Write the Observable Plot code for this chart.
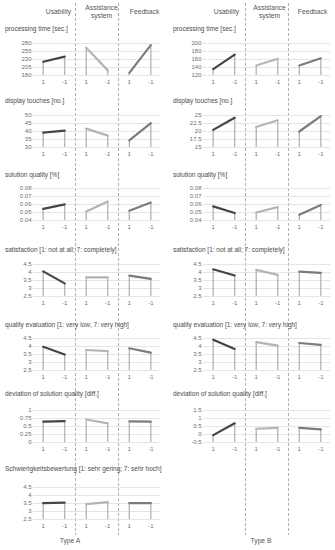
<!DOCTYPE html>
<html><head><meta charset="utf-8">
<script src="https://cdn.jsdelivr.net/npm/d3@7"></script>
<script src="https://cdn.jsdelivr.net/npm/@observablehq/plot@0.6"></script>
<style>
body{margin:0;background:#fff;}
#root{position:relative;width:335px;height:550px;overflow:hidden;font-family:"Liberation Sans",Arial,Helvetica,sans-serif;}
.box{position:absolute;}
.title{position:absolute;font-size:6.5px;color:#4a4a4a;white-space:nowrap;line-height:1;transform:translateY(-50%);}
</style></head><body><div id="root"></div>
<script>
// ---------- data ----------
const groups = ["Usability", "Assistance system", "Feedback"];
const levels = ["1", "-1"];
const types = ["Type A", "Type B"];
const measures = [
  "processing time [sec.]",
  "display touches [no.]",
  "solution quality [%]",
  "satisfaction [1: not at all; 7: completely]",
  "quality evaluation [1: very low; 7: very high]",
  "deviation of solution quality [diff.]",
  "Schwierigkeitsbewertung [1: sehr gering; 7: sehr hoch]"
];
// values in order: Usability 1, -1, Assistance 1, -1, Feedback 1, -1
const processingTimeA = [223, 239, 267, 196, 188, 275];
const processingTimeB = [136, 172, 145, 162, 145, 163];
const displayTouchesA = [39.3, 40.6, 41.8, 37.4, 34.5, 45.2];
const displayTouchesB = [20.5, 24.3, 21.4, 23.5, 20.0, 24.8];
const solutionQualityA = [0.0546, 0.0602, 0.0512, 0.0636, 0.0523, 0.0624];
const solutionQualityB = [0.0576, 0.0493, 0.0500, 0.0568, 0.0471, 0.0594];
const satisfactionA = [4.07, 3.32, 3.70, 3.70, 3.81, 3.60];
const satisfactionB = [4.20, 3.81, 4.16, 3.85, 4.05, 3.98];
const qualityEvalA = [3.98, 3.50, 3.78, 3.71, 3.89, 3.62];
const qualityEvalB = [4.42, 3.85, 4.27, 4.05, 4.22, 4.10];
const deviationA = [0.65, 0.67, 0.72, 0.60, 0.66, 0.65];
const deviationB = [-0.04, 0.70, 0.36, 0.42, 0.42, 0.32];
const difficultyA = [3.52, 3.56, 3.46, 3.58, 3.52, 3.52];

const ticksProcessingTimeA = [180, 205, 230, 255, 280];
const ticksProcessingTimeB = [120, 140, 160, 180, 200];
const ticksDisplayTouchesA = [30, 35, 40, 45, 50];
const ticksDisplayTouchesB = [15, 17.5, 20, 22.5, 25];
const ticksSolutionQuality = [0.04, 0.05, 0.06, 0.07, 0.08];
const ticksRating = [2.5, 3, 3.5, 4, 4.5];
const ticksDeviationA = [0, 0.25, 0.5, 0.75, 1];
const ticksDeviationB = [-0.5, 0, 0.5, 1, 1.5];

const columns = [
  [[processingTimeA, ticksProcessingTimeA], [displayTouchesA, ticksDisplayTouchesA], [solutionQualityA, ticksSolutionQuality],
   [satisfactionA, ticksRating], [qualityEvalA, ticksRating], [deviationA, ticksDeviationA], [difficultyA, ticksRating]],
  [[processingTimeB, ticksProcessingTimeB], [displayTouchesB, ticksDisplayTouchesB], [solutionQualityB, ticksSolutionQuality],
   [satisfactionB, ticksRating], [qualityEvalB, ticksRating], [deviationB, ticksDeviationB]]
];

// ---------- layout / style ----------
const FONT = '"Liberation Sans", Arial, Helvetica, sans-serif';
const groupColors = ["#454545", "#b4b4b4", "#7c7c7c"];
const colLeft = [0, 170];
const W = 167, ML = 33, MR = 7, MT = 4, MB = 14, PH = 32;
const gridTop = [43, 115, 188, 264, 338, 410, 487];
const titleY = [29, 101, 175, 250, 325, 394, 469];
const xDomain = [0.55, 6.45];
const root = document.getElementById("root");

function place(el, left, top) {
  const d = document.createElement("div");
  d.className = "box";
  d.style.left = left + "px"; d.style.top = top + "px"; d.style.width = W + "px";
  d.appendChild(el); root.appendChild(d);
}

function panel(values, ticks) {
  const data = values.map((v, i) => ({group: groups[Math.floor(i / 2)], level: levels[i % 2], pos: i + 1, value: v}));
  const lo = d3.min(ticks), hi = d3.max(ticks);
  return Plot.plot({
    width: W, height: MT + PH + MB, marginLeft: ML, marginRight: MR, marginTop: MT, marginBottom: MB,
    style: {background: "transparent", fontFamily: FONT, fontSize: "6px", color: "#6e6e6e", overflow: "visible"},
    x: {domain: xDomain, ticks: data.map(d => d.pos), tickFormat: p => data[p - 1].level, tickSize: 0, tickPadding: 4, label: null},
    y: {domain: [lo, hi], ticks, tickFormat: d => String(d), tickSize: 0, tickPadding: 2, label: null},
    color: {domain: groups, range: groupColors},
    marks: [
      Plot.ruleY(ticks, {stroke: "#dedede", strokeWidth: 0.8}),
      Plot.ruleX(data, {x: "pos", y1: lo, y2: "value", stroke: "#b3b3b3", strokeWidth: 1.3}),
      Plot.line(data, {x: "pos", y: "value", z: "group", stroke: "group", strokeWidth: 2.2})
    ]
  });
}

function overlay(ci) {
  const centers = groups.map((g, gi) => ({group: g, pos: gi * 2 + 1.5}));
  const seps = d3.range(1, groups.length).map(k => k * 2 + 0.5);
  return Plot.plot({
    width: W, height: 550, marginLeft: ML, marginRight: MR, marginTop: 0, marginBottom: 0,
    style: {background: "transparent", fontFamily: FONT, overflow: "visible"},
    x: {domain: xDomain, axis: null},
    marks: [
      Plot.ruleX(seps, {stroke: "#9a9a9a", strokeWidth: 0.8, strokeDasharray: "3,2", insetTop: 3, insetBottom: 15}),
      Plot.text(centers, {x: "pos", text: "group", frameAnchor: "top", dy: 11, dx: ci === 0 ? 4.5 : 2.5,
        lineWidth: 5, lineAnchor: "middle", fontSize: 6.7, fill: "#555", lineHeight: 1.15}),
      Plot.text([types[ci]], {text: d => d, frameAnchor: "bottom", dy: -8, dx: ci === 0 ? -27 : -6, fontSize: 6.7, fill: "#555"})
    ]
  });
}

columns.forEach((rows, ci) => {
  place(overlay(ci), colLeft[ci], 0);
  rows.forEach(([values, ticks], ri) => {
    place(panel(values, ticks), colLeft[ci], gridTop[ri] - MT);
    const t = document.createElement("div");
    t.className = "title";
    t.textContent = measures[ri];
    t.style.left = (colLeft[ci] + (ci === 0 ? 5 : 3)) + "px";
    t.style.top = titleY[ri] + "px";
    root.appendChild(t);
  });
});
</script></body></html>
